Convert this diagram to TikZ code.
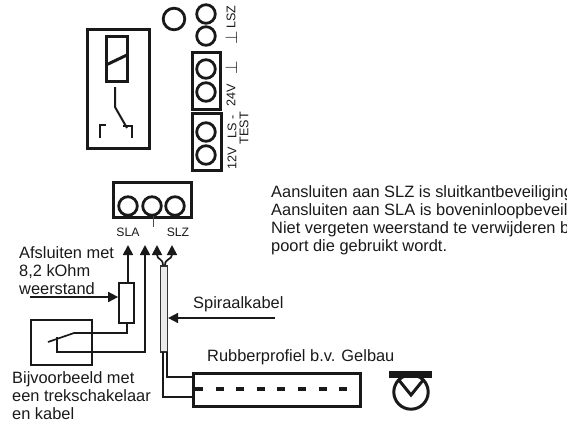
\documentclass[tikz,border=0pt]{standalone}
\usepackage{fontspec}
\setmainfont{Liberation Sans}
\usetikzlibrary{arrows,arrows.meta}
\tikzset{
  wire/.style={line width=1.7pt,black!90},
  heavy/.style={line width=3pt,black!90},
  pin/.style={line width=2.8pt,black!90},
  tip/.style={wire,-{Triangle[length=10pt,width=10pt]}},
  lbl/.style={inner sep=0pt,anchor=west,align=left,font=\fontsize{16.4}{18}\selectfont,text=black!90},
  small/.style={inner sep=0pt,font=\fontsize{12.6}{14}\selectfont,text=black!90,rotate=90},
  earth/.style={small,font=\fontsize{18}{18}\selectfont}
}
\begin{document}
\begin{tikzpicture}[x=1pt,y=-1pt]
  \useasboundingbox (0,0) rectangle (581,421);
  \pgfmathsetmacro\rpin{9.3}

% relay at top left
  \draw[heavy] (87,29) rectangle (149,148);
  \draw[heavy] (106,36) rectangle (127,81);
  \draw[heavy] (106,65) -- (127,55);
  \draw[wire,line width=2pt] (115,87) -- (115,107) -- (127,128);
  \draw[wire] (100,138) -- (100,125) -- (106,125);
  \draw[wire] (123,126) -- (132,126) -- (132,138);

% test pins
  \draw[pin] (174,19) circle (10.8);
  \foreach \py in {14,36,69,92,132,155}
    \draw[pin] (206,\py) circle (\rpin);
  \draw[heavy] (192,52) rectangle (220,109);
  \draw[heavy] (192,113) rectangle (221,170);

% pin labels
  \node[small] (lsz) at (231,17) {LSZ};
  \node[earth] (gnda) at (231,38) {$\perp$};
  \node[earth] (gndb) at (231,68) {$\perp$};
  \node[small] (v24) at (231,95) {24V};
  \node[small] (lsm) at (232,127) {LS -};
  \node[small] (test) at (244,128) {TEST};
  \node[small] (v12) at (232,158) {12V};

% connector SLA / SLZ
  \draw[heavy] (113,182) rectangle (191,217);
  \foreach \px in {128,152,175}
    \draw[pin] (\px,206) circle (\rpin);
  \draw[black!70,line width=0.8pt] (153,216) -- (153,227);
  \node[inner sep=0pt,font=\fontsize{12.2}{14}\selectfont,text=black!90] (sla) at (128,232) {SLA};
  \node[inner sep=0pt,font=\fontsize{12.2}{14}\selectfont,text=black!90] (slz) at (178,232) {SLZ};

% text at right, cut off at the edge of the sheet
  \begin{scope}
    \clip (260,170) rectangle (566,270);
    \node[lbl] (remark) at (271,220) {Aansluiten aan SLZ is sluitkantbeveiliging\\Aansluiten aan SLA is boveninloopbeveil\\Niet vergeten weerstand te verwijderen b\\poort die gebruikt wordt.};
  \end{scope}

% resistor and switch
  \node[lbl] (afsl) at (19,271) {Afsluiten met\\8,2 kOhm\\weerstand};
  \node[draw,line width=1.7pt,draw=black!90,minimum width=15pt,minimum height=40pt,inner sep=0pt] (res) at (126.5,303) {};
  \coordinate (sla up) at (128,245);
  \coordinate (gnd up) at (145,245);
  \coordinate (afsl a) at (30,297);
  \draw[tip] (res.north -| sla up) -- (sla up);
  \draw[tip] (afsl a) -- (res.west |- afsl a);
  \node[draw,line width=1.6pt,draw=black!90,minimum width=61pt,minimum height=45pt,inner sep=0pt] (trek) at (61.5,342.5) {};
  \draw[wire] (48,342) -- (74,333) -- (127,333) -- (res.south -| 127,0);
  \draw[tip] (57,337) -- (57,352) -- (145,352) -- (gnd up);
  \node[lbl] (bijv) at (12,396) {Bijvoorbeeld met\\een trekschakelaar\\en kabel};

% spiral cable
  \node[draw,line width=1.2pt,draw=black!80,fill=black!8,minimum width=7pt,minimum height=86pt,inner sep=0pt] (cable) at (164,309) {};
  \coordinate (fork a) at (157,245);
  \coordinate (fork b) at (172,245);
  \draw[tip] (cable.north) ++(-1,0) .. controls (163,258) and (157,260) .. (fork a);
  \draw[tip] (cable.north) ++(1,0) .. controls (165,258) and (172,260) .. (fork b);
  \coordinate (spir a) at (275,318);
  \draw[tip] (spir a) -- (cable.east |- spir a);
  \node[lbl] (spir) at (193,304) {Spiraalkabel};

% rubber profile
  \node[lbl] (rubber) at (207,357) {Rubberprofiel b.v. Gelbau};
  \node[draw,line width=3.4pt,draw=black!90,minimum width=167pt,minimum height=33pt,inner sep=0pt] (prof) at (277,390) {};
  \draw[wire] (163,352) -- (163,397) -- (prof.west |- 0,397);
  \draw[wire] (167,352) -- (167,377) -- (prof.west |- 0,377);
  \draw[line width=3.2pt,black!90,dash pattern=on 8pt off 12.6pt] (195,389) -- (362,389);

% section of profile
  \fill[black!90] (389,371) rectangle (432,378);
  \draw[line width=3pt,black!90] (411,392) circle (17.2);
  \draw[line width=3pt,black!90] (398,379) -- (411,395) -- (424,379);
\end{tikzpicture}
\end{document}
